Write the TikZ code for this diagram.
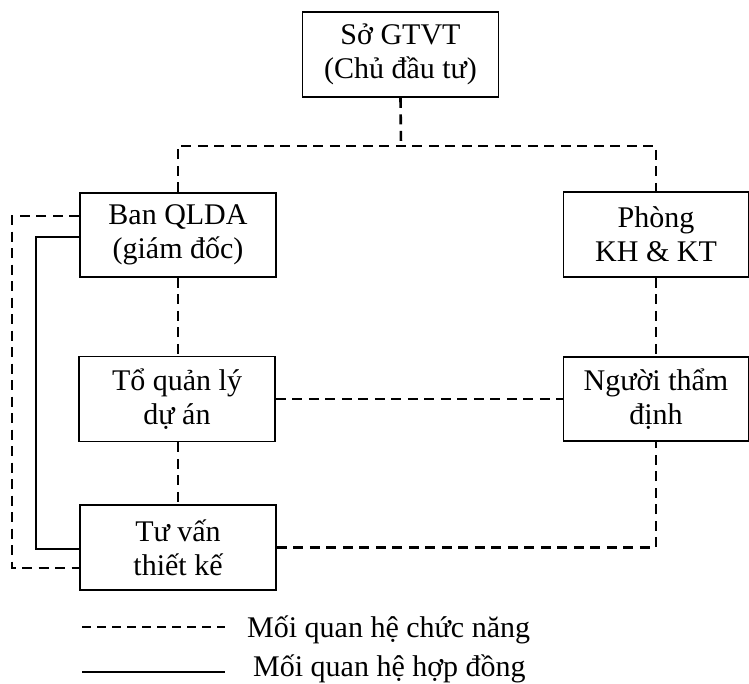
\documentclass[tikz,border=0pt]{standalone}
\usepackage{fontspec}
\setmainfont{Liberation Serif}
\begin{document}
\begin{tikzpicture}[x=1pt,y=-1pt,
  box/.style={draw,line width=1.8pt,align=center,inner sep=0pt,
    font=\fontsize{30}{34}\selectfont},
  func/.style={line width=2.6pt,dash pattern=on 10pt off 6.5pt},
  contract/.style={line width=2.6pt},
  legend/.style={anchor=base west,inner sep=0pt,font=\fontsize{30}{34}\selectfont}]
\useasboundingbox (0,0) rectangle (749,683);

% organisation boxes
\node[box,minimum width=196pt,minimum height=85pt] (so)    at (400.5,54.5) {Sở GTVT\\(Chủ đầu tư)};
\node[box,minimum width=196pt,minimum height=84pt] (ban)   at (178,235)    {Ban QLDA\\(giám đốc)};
\node[box,minimum width=185pt,minimum height=85pt] (phong) at (656,234.5)  {Phòng\\KH \& KT};
\node[box,minimum width=196pt,minimum height=85pt] (to)    at (177,399)    {Tổ quản lý\\dự án};
\node[box,minimum width=185pt,minimum height=84pt] (nguoi) at (656,399)    {Người thẩm\\định};
\node[box,minimum width=196pt,minimum height=85pt] (tuvan) at (178,547.5)  {Tư vấn\\thiết kế};

% functional links
\coordinate (top) at (401,146);
\draw[func] (so.south) -- (top);
\draw[func] (ban.north) |- (top) -| (phong.north);
\draw[func] (ban.south) -- (ban.south |- to.north);
\draw[func] (to.south -| tuvan.north) -- (tuvan.north);
\draw[func] (phong.south) -- (nguoi.north);
\draw[func] (to.east) -- (nguoi.west);
\draw[func] (tuvan.east) -| (nguoi.south);
\draw[func] ([yshift=19pt]ban.west) -- ++(-67,0) |- ([yshift=-20.5pt]tuvan.west);

% contract link
\draw[contract] ([yshift=-2pt]ban.west) -- ++(-43,0) |- ([yshift=-1.5pt]tuvan.west);

% legend
\coordinate (l1a) at (82,627);
\coordinate (l1b) at (225,627);
\coordinate (l2a) at (82,672);
\coordinate (l2b) at (225,672);
\draw[func,line width=2.2pt,dash pattern=on 9pt off 6pt] (l1a) -- (l1b);
\draw[contract,line width=2.2pt] (l2a) -- (l2b);
\node[legend] (t1) at (247,637) {Mối quan hệ chức năng};
\node[legend] (t2) at (253,676) {Mối quan hệ hợp đồng};
\end{tikzpicture}
\end{document}
